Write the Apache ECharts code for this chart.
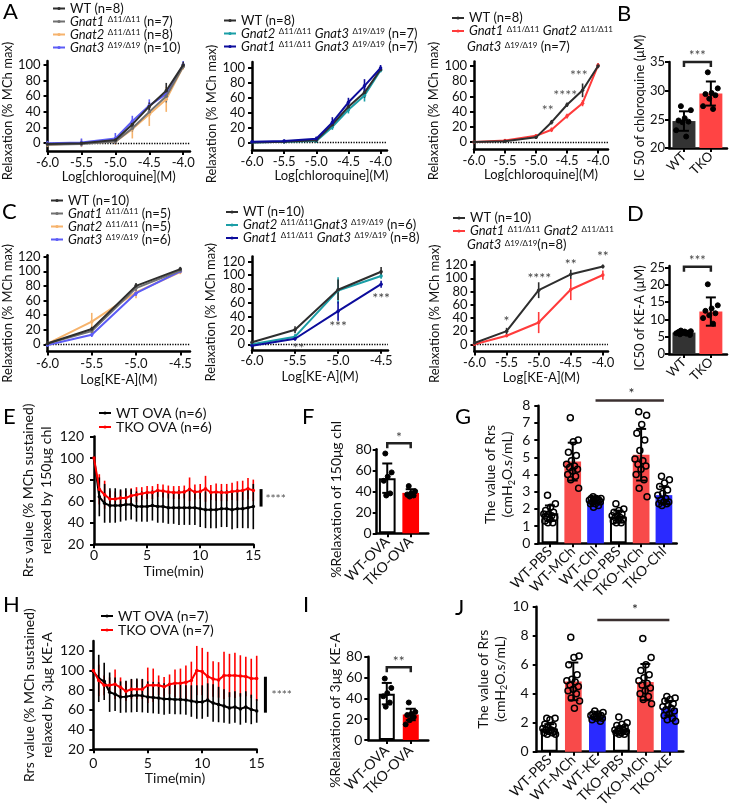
<!DOCTYPE html>
<html>
<head>
<meta charset="utf-8">
<title>Gnat knockout airway relaxation</title>
<script src="https://cdn.jsdelivr.net/npm/echarts@6.0.0/dist/echarts.min.js"></script>
<style>
  html, body { margin: 0; padding: 0; background: #fff; }
  #chart { width: 730px; height: 811px; }
</style>
</head>
<body>
<div id="chart"></div>
<script>
// ---------- data ----------
// A: chloroquine dose response (log M)
const chlDose = [-6, -5.5, -5, -4.75, -4.5, -4.25, -4];
const a1WT = [-1, 0, 4, 24, 47, 67, 100];
const a1WTErr = [2, 2, 3, 4, 5, 10, 4];
const a1Gnat1 = [-2, -1, 2, 19, 40, 60, 98];
const a1Gnat1Err = [2, 2, 3, 4, 5, 8, 3];
const a1Gnat2 = [-2, 0, 2, 18, 37, 56, 98];
const a1Gnat2Err = [3, 5, 4, 12, 15, 16, 4];
const a1Gnat3 = [0, 1, 6, 28, 48, 63, 100];
const a1Gnat3Err = [3, 5, 7, 7, 8, 6, 5];

const a2WT = [0, 1, 3, 24, 48, 67, 98];
const a2WTErr = [1, 2, 2, 4, 5, 7, 3];
const a2Gnat23 = [0, 1, 2, 21, 44, 63, 97];
const a2Gnat23Err = [1, 2, 2, 4, 5, 8, 3];
const a2Gnat13 = [1, 2, 5, 27, 54, 76, 100];
const a2Gnat13Err = [1, 2, 3, 7, 6, 9, 4];

const a3WT = [0, 1, 6, 26, 49, 68, 100];
const a3WTErr = [1, 2, 2, 3, 3, 9, 3];
const a3TKO = [0, 2, 8, 16, 34, 51, 101];
const a3TKOErr = [1, 2, 2, 3, 3, 4, 3];
const a3Stars = ['**', '****', '***'];
const a3StarAt = [[-4.81, 45], [-4.53, 65], [-4.31, 91]];

// B: IC50 of chloroquine
const tkoGroups = ['WT', 'TKO'];
const bMean = [24.7, 29.5];
const bSd = [1.7, 2.1];
const bPoints = [
  [27.3, 26.6, 25.2, 24.8, 24.6, 24.5, 23.1, 22.0],
  [33.2, 30.4, 29.6, 29.4, 29.2, 28.6, 27.3, 26.8]
];

// C: KE-A dose response (log M)
const keDose = [-6, -5.5, -5, -4.5];
const c1WT = [1, 21, 80, 103];
const c1WTErr = [2, 3, 4, 3];
const c1Gnat1 = [1, 18, 77, 101];
const c1Gnat1Err = [2, 3, 4, 3];
const c1Gnat2 = [1, 31, 71, 99];
const c1Gnat2Err = [2, 12, 8, 3];
const c1Gnat3 = [-1, 13, 70, 100];
const c1Gnat3Err = [2, 3, 4, 3];

const c2WT = [3, 21, 79, 105];
const c2WTErr = [2, 5, 15, 7];
const c2Gnat23 = [0, 11, 78, 99];
const c2Gnat23Err = [2, 4, 19, 4];
const c2Gnat13 = [-2, 8, 48, 87];
const c2Gnat13Err = [2, 3, 14, 5];
const c2Stars = ['**', '***', '***'];
const c2StarAt = [[-5.46, -2], [-5.0, 30], [-4.5, 71]];

const keDose3 = [-6, -5.5, -5, -4.5, -4];
const c3WT = [2, 20, 82, 106, 118];
const c3WTErr = [2, 5, 12, 7, 3];
const c3TKO = [0, 13, 33, 83, 105];
const c3TKOErr = [2, 2, 16, 16, 7];
const c3Stars = ['*', '****', '**', '**'];
const c3StarAt = [[-5.5, 40], [-4.99, 105], [-4.5, 126], [-4.0, 137]];

// D: IC50 of KE-A
const dMean = [6.2, 12.3];
const dSd = [0.5, 4.1];
const dPoints = [
  [6.8, 6.6, 6.5, 6.4, 6.2, 6.1, 6.0, 5.9, 5.7, 5.5],
  [20.2, 14.1, 13.2, 12.5, 11.8, 11.2, 10.4, 8.8]
];

// E / H: time course (min)
const timeMin = [0, 0.5, 1, 1.5, 2, 2.5, 3, 3.5, 4, 4.5, 5, 5.5, 6, 6.5, 7, 7.5, 8, 8.5, 9, 9.5, 10, 10.5, 11, 11.5, 12, 12.5, 13, 13.5, 14, 14.5, 15];
const eWT = [100, 64, 58, 56, 56, 56, 57, 57, 55, 55, 55, 56, 55, 55, 54, 54, 54, 54, 54, 54, 53, 52, 52, 52, 53, 53, 52, 53, 53, 54, 55];
const eWTErr = [0, 18, 18, 16, 16, 15, 15, 14, 14, 14, 14, 14, 15, 15, 15, 15, 16, 16, 16, 16, 17, 17, 17, 17, 17, 17, 18, 18, 18, 19, 21];
const eTKO = [100, 71, 66, 62, 62, 63, 63, 65, 66, 67, 68, 68, 70, 69.5, 68.5, 68, 68, 68.5, 71, 68.5, 69, 71.5, 68, 68.5, 68, 68, 69, 69.5, 70, 71.5, 70];
const eTKOErr = [0, 14, 13, 8, 7, 7, 7, 7, 7, 6, 6, 6, 6, 6, 6, 6, 6, 6, 11, 7, 7, 12, 7, 8, 8, 8, 8, 9, 9, 10, 10];

const hWT = [99, 92, 89, 78, 76, 73, 73.5, 74.5, 75, 74.5, 73, 72.5, 72, 71, 71, 70.5, 70.5, 70, 69, 68, 68, 70, 67, 65.5, 64, 62, 63, 61, 63, 60.5, 59];
const hWTErr = [0, 24, 19, 20, 17, 16, 16, 17, 17, 17, 16, 16, 16, 16, 15, 15, 15, 15, 16, 17, 17, 17, 19, 18, 17, 16, 16, 16, 16, 15, 12];
const hTKO = [100, 90, 85, 85, 86, 83, 79, 81, 81, 81, 85, 85, 85, 83.5, 86, 87, 87, 88, 90, 100, 99, 94, 91.5, 90.5, 95, 95, 95, 94.5, 94, 92, 92];
const hTKOErr = [0, 16, 10, 8, 15, 10, 10, 10, 10, 10, 18, 17, 10, 10, 10, 14, 15, 17, 19, 25, 24, 25, 18, 18, 24, 22, 23, 21, 20, 20, 23];

// F / I: % relaxation
const ovaGroups = ['WT-OVA', 'TKO-OVA'];
const fMean = [52.5, 38.5];
const fSd = [14, 3.5];
const fPoints = [[76, 58, 54, 50, 38, 36], [45, 40, 38, 37, 36, 35]];
const iMean = [44.5, 24.5];
const iSd = [10.3, 5.5];
const iPoints = [[59, 50, 45, 42, 36, 32], [36, 27, 25, 24, 22, 19, 15]];

// G / J: Rrs values
const gGroups = ['WT-PBS', 'WT-MCh', 'WT-Chl', 'TKO-PBS', 'TKO-MCh', 'TKO-Chl'];
const gMean = [1.75, 4.75, 2.5, 1.55, 5.15, 2.8];
const gSd = [0.45, 1.1, 0.2, 0.35, 1.5, 0.5];
const gPoints = [
  [2.8, 2.3, 2.1, 1.9, 1.8, 1.7, 1.7, 1.6, 1.5, 1.5, 1.4, 1.3, 1.2, 1.2],
  [7.3, 6.0, 5.9, 5.3, 5.1, 4.8, 4.6, 4.5, 4.4, 4.3, 4.2, 4.0, 3.9, 3.7, 3.2],
  [2.7, 2.6, 2.6, 2.6, 2.5, 2.5, 2.5, 2.5, 2.4, 2.4, 2.3, 2.3, 2.2, 2.1],
  [2.3, 2.0, 1.9, 1.8, 1.7, 1.6, 1.6, 1.5, 1.5, 1.4, 1.4, 1.3, 1.2, 1.2],
  [7.65, 7.45, 6.9, 6.4, 6.0, 5.4, 4.9, 4.8, 4.6, 4.5, 4.3, 4.0, 3.7, 3.2, 2.7],
  [3.9, 3.7, 3.5, 3.3, 3.1, 2.9, 2.8, 2.6, 2.5, 2.4, 2.4, 2.3, 2.3, 2.2]
];
const jGroups = ['WT-PBS', 'WT-MCh', 'WT-KE', 'TKO-PBS', 'TKO-MCh', 'TKO-KE'];
const jMean = [1.6, 4.85, 2.45, 1.5, 4.8, 3.0];
const jSd = [0.3, 1.3, 0.2, 0.25, 1.25, 0.5];
const jPoints = [
  [2.3, 2.3, 2.2, 1.9, 1.8, 1.7, 1.6, 1.5, 1.5, 1.4, 1.4, 1.3, 1.3, 1.2, 1.2],
  [7.9, 6.6, 6.5, 6.0, 5.3, 5.0, 4.9, 4.8, 4.6, 4.5, 4.3, 4.2, 4.0, 3.7, 3.5, 3.0],
  [2.8, 2.7, 2.6, 2.6, 2.5, 2.5, 2.5, 2.4, 2.4, 2.3, 2.3, 2.2, 2.1],
  [2.4, 2.0, 1.9, 1.8, 1.7, 1.6, 1.5, 1.5, 1.4, 1.4, 1.3, 1.3, 1.2, 1.2],
  [7.8, 6.5, 6.0, 5.6, 5.3, 5.1, 4.9, 4.7, 4.6, 4.4, 4.2, 4.0, 3.8, 3.6, 3.3],
  [3.8, 3.7, 3.6, 3.5, 3.3, 3.2, 3.1, 3.0, 2.9, 2.8, 2.6, 2.5, 2.3, 2.2, 2.1]
];

// legend texts
const LEG = {
  'A1 WT': 'WT (n=8)',
  'A1 G1': '{i|Gnat1} {s|Δ11/Δ11} (n=7)',
  'A1 G2': '{i|Gnat2} {s|Δ11/Δ11} (n=8)',
  'A1 G3': '{i|Gnat3} {s|Δ19/Δ19} (n=10)',
  'A2 WT': 'WT (n=8)',
  'A2 G23': '{i|Gnat2} {s|Δ11/Δ11} {i|Gnat3} {s|Δ19/Δ19} (n=7)',
  'A2 G13': '{i|Gnat1} {s|Δ11/Δ11} {i|Gnat3} {s|Δ19/Δ19} (n=7)',
  'A3 WT': 'WT (n=8)',
  'A3 TKO': '{i|Gnat1} {s|Δ11/Δ11} {i|Gnat2} {s|Δ11/Δ11}',
  'C1 WT': 'WT (n=10)',
  'C1 G1': '{i|Gnat1} {s|Δ11/Δ11} (n=5)',
  'C1 G2': '{i|Gnat2} {s|Δ11/Δ11} (n=5)',
  'C1 G3': '{i|Gnat3} {s|Δ19/Δ19} (n=6)',
  'C2 WT': 'WT (n=10)',
  'C2 G23': '{i|Gnat2} {s|Δ11/Δ11}{i|Gnat3} {s|Δ19/Δ19} (n=6)',
  'C2 G13': '{i|Gnat1} {s|Δ11/Δ11} {i|Gnat3} {s|Δ19/Δ19} (n=8)',
  'C3 WT': 'WT (n=10)',
  'C3 TKO': '{i|Gnat1} {s|Δ11/Δ11} {i|Gnat2} {s|Δ11/Δ11}',
  'E WT': 'WT OVA (n=6)',
  'E TKO': 'TKO OVA (n=6)',
  'H WT': 'WT OVA (n=7)',
  'H TKO': 'TKO OVA (n=7)'
};

// ---------- styling ----------
const FONT = 'Lato, "DejaVu Sans", sans-serif';
const INK = '#111';
const C_WT = '#2e2e2e', C_G1 = '#707070', C_G2 = '#f6b36c', C_G3 = '#5c5cf6';
const C_TEAL = '#1b9ea6', C_NAVY = '#0c0c9c', C_RED = '#ff3b3b';
const twoFill = ['#333333', '#ff4444'];
const ovaFill = ['#ffffff', '#ff0000'];
const ovaBorder = ['#000', null];
const sixFill = ['#ffffff', '#f84a4a', '#2a2aff', '#ffffff', '#f84a4a', '#2a2aff'];
const sixBorder = ['#000', null, null, '#000', null, null];

const chart = echarts.init(document.getElementById('chart'));
const grids = [], xAxes = [], yAxes = [], series = [], legends = [];

function rich(fs, lh) {
  return {
    i: {fontStyle: 'italic', fontSize: fs, fontFamily: FONT, lineHeight: lh, color: INK},
    s: {fontSize: Math.round(fs * 0.62), fontFamily: FONT, lineHeight: 6, verticalAlign: 'top', color: INK}
  };
}

function panel(p) {
  const gi = grids.length;
  const tx = {fontSize: p.fs, fontFamily: FONT, color: INK};
  grids.push({left: p.box[0], top: p.box[1], width: p.box[2], height: p.box[3]});
  xAxes.push({
    gridIndex: gi, type: 'value', min: p.x[0], max: p.x[1],
    axisLine: {onZero: false, lineStyle: {color: '#000', width: 2.5}},
    axisTick: {length: 4, customValues: p.xt, lineStyle: {color: '#000', width: 2}},
    axisLabel: Object.assign({customValues: p.xt, formatter: p.xf, margin: p.xm, rotate: p.xr || 0}, tx),
    splitLine: {show: false},
    name: p.xn || '', nameLocation: 'middle', nameGap: p.xg || 18,
    nameTextStyle: Object.assign({padding: p.xpad || 0}, tx)
  });
  yAxes.push({
    gridIndex: gi, type: 'value', min: p.y[0], max: p.y[1],
    axisLine: {onZero: false, lineStyle: {color: '#000', width: 2.5}},
    axisTick: {length: 4, customValues: p.yt, lineStyle: {color: '#000', width: 2}},
    axisLabel: Object.assign({customValues: p.yt, margin: p.ym}, tx),
    splitLine: {show: false},
    name: p.yn, nameLocation: 'middle', nameRotate: 90, nameGap: p.yg,
    nameTextStyle: Object.assign({padding: [0, p.ypad || 0, 0, 0], lineHeight: p.ylh || p.fs}, tx, p.yrich ? {rich: p.yrich} : {})
  });
  return gi;
}

function errBar(color, width, cap) {
  return function (params, api) {
    const x = api.value(0), y = api.value(1), e = api.value(2);
    const hi = api.coord([x, y + e]), lo = api.coord([x, y - e]);
    const st = {stroke: color, lineWidth: width};
    const kids = [{type: 'line', shape: {x1: hi[0], y1: hi[1], x2: lo[0], y2: lo[1]}, style: st}];
    if (cap) {
      kids.push({type: 'line', shape: {x1: hi[0] - cap, y1: hi[1], x2: hi[0] + cap, y2: hi[1]}, style: st});
      kids.push({type: 'line', shape: {x1: lo[0] - cap, y1: lo[1], x2: lo[0] + cap, y2: lo[1]}, style: st});
    }
    return {type: 'group', children: kids};
  };
}

function curve(gi, name, xs, ys, es, color, z, zeroLine) {
  series.push({
    type: 'custom', xAxisIndex: gi, yAxisIndex: gi, silent: true, z: z,
    data: xs.map((x, i) => [x, ys[i], es[i]]), renderItem: errBar(color, 1.6, 0)
  });
  const s = {
    type: 'line', name: name, xAxisIndex: gi, yAxisIndex: gi, z: z + 10,
    data: xs.map((x, i) => [x, ys[i]]), symbol: 'circle', symbolSize: 3.5,
    lineStyle: {color: color, width: 2}, itemStyle: {color: color}
  };
  if (zeroLine) {
    s.markLine = {silent: true, symbol: 'none', label: {show: false},
      lineStyle: {color: '#000', type: 'dotted', width: 1.3}, data: [{yAxis: 0}]};
  }
  series.push(s);
}

function jitter(j, spread) {
  const f = (j * 0.618034 + 0.31) % 1;
  return (f - 0.5) * 2 * spread;
}

function bars(gi, means, sds, pts, fills, borders, barW, spread, dot) {
  series.push({
    type: 'bar', xAxisIndex: gi, yAxisIndex: gi, barWidth: barW, z: 2,
    data: means.map((m, i) => ({value: [i, m], itemStyle: {
      color: fills[i], borderColor: borders ? borders[i] || fills[i] : fills[i],
      borderWidth: borders && borders[i] ? 2 : 0}}))
  });
  const dots = [];
  pts.forEach((g, i) => g.forEach((v, j) => dots.push([i + jitter(j, spread), v])));
  series.push({
    type: 'scatter', xAxisIndex: gi, yAxisIndex: gi, z: 3, data: dots,
    symbol: 'circle', symbolSize: dot.size,
    itemStyle: {color: dot.fill, borderColor: '#000', borderWidth: dot.border, opacity: 1}
  });
  series.push({
    type: 'custom', xAxisIndex: gi, yAxisIndex: gi, silent: true, z: 4,
    data: means.map((m, i) => [i, m, sds[i]]), renderItem: errBar('#000', 2, 5)
  });
}

function marks(gi, pos, labels, fs, color) {
  series.push({
    type: 'custom', xAxisIndex: gi, yAxisIndex: gi, silent: true, z: 8, data: pos,
    renderItem: function (params, api) {
      const c = api.coord([api.value(0), api.value(1)]);
      return {type: 'text', x: c[0], y: c[1] + fs * 0.22, style: {
        text: labels[params.dataIndex], fontSize: fs, fontFamily: FONT, fill: color,
        align: 'center', verticalAlign: 'middle'}};
    }
  });
}

function bracket(gi, x0, x1, y, label, fs) {
  series.push({
    type: 'custom', xAxisIndex: gi, yAxisIndex: gi, silent: true, z: 8, data: [[x0, x1, y]],
    renderItem: function (params, api) {
      const a = api.coord([api.value(0), api.value(2)]);
      const b = api.coord([api.value(1), api.value(2)]);
      return {type: 'group', children: [
        {type: 'polyline', shape: {points: [[a[0], a[1] + 5], a, b, [b[0], b[1] + 5]]},
          style: {stroke: '#222', lineWidth: 2.5, fill: null}},
        {type: 'text', x: (a[0] + b[0]) / 2, y: a[1] - 9 + fs * 0.22, style: {
          text: label, fontSize: fs, fontFamily: FONT, fill: '#444', align: 'center', verticalAlign: 'middle'}}
      ]};
    }
  });
}

function segment(gi, seg, width, color) {
  series.push({
    type: 'custom', xAxisIndex: gi, yAxisIndex: gi, silent: true, z: 8, data: [seg],
    renderItem: function (params, api) {
      const a = api.coord([api.value(0), api.value(1)]);
      const b = api.coord([api.value(2), api.value(3)]);
      return {type: 'line', shape: {x1: a[0], y1: a[1], x2: b[0], y2: b[1]},
        style: {stroke: color, lineWidth: width}};
    }
  });
}

function legend(names, left, top, lh, fs) {
  legends.push({
    orient: 'vertical', left: left, top: top, padding: 0, itemGap: 0,
    itemWidth: 12, itemHeight: 4, selectedMode: false, data: names,
    formatter: n => LEG[n],
    textStyle: {fontSize: fs, fontFamily: FONT, color: INK, lineHeight: lh, rich: rich(fs, lh)}
  });
}

const fmt1 = v => v.toFixed(1);
const relName = 'Relaxation (% MCh max)';
const chlTicks = [-6, -5.5, -5, -4.5, -4];
const keTicks = [-6, -5.5, -5, -4.5];
const keTicks3 = [-6, -5.5, -5, -4.5, -4];
const pctTicks = [0, 20, 40, 60, 80, 100];
const pct120 = [0, 20, 40, 60, 80, 100, 120];
const rrsName = '{a|The value of Rrs}\n{a|(cmH}{b|2}{a|O.s/mL)}';
const rrsRich = {
  a: {fontSize: 14, fontFamily: FONT, color: INK, lineHeight: 17},
  b: {fontSize: 9, fontFamily: FONT, color: INK, lineHeight: 9, verticalAlign: 'bottom'}
};

// ---------- A ----------
let g = panel({box: [47, 61, 143, 90], x: [-6, -3.9], y: [-10, 105], fs: 13,
  xt: chlTicks, xf: fmt1, xm: 5, xn: 'Log[chloroquine](M)', xg: 17,
  yt: pctTicks, ym: 7, yn: relName, yg: 32, ypad: 10});
curve(g, 'A1 G2', chlDose, a1Gnat2, a1Gnat2Err, C_G2, 2, true);
curve(g, 'A1 G3', chlDose, a1Gnat3, a1Gnat3Err, C_G3, 3);
curve(g, 'A1 G1', chlDose, a1Gnat1, a1Gnat1Err, C_G1, 4);
curve(g, 'A1 WT', chlDose, a1WT, a1WTErr, C_WT, 5);
legend(['A1 WT', 'A1 G1', 'A1 G2', 'A1 G3'], 52, 2, 12, 13);

g = panel({box: [252, 62, 135, 88], x: [-6, -3.9], y: [-10, 108], fs: 13,
  xt: chlTicks, xf: fmt1, xm: 5, xn: 'Log[chloroquine](M)', xg: 17, xpad: [0, 0, 0, 24],
  yt: pctTicks, ym: 7, yn: relName, yg: 30, ypad: 16});
curve(g, 'A2 G23', chlDose, a2Gnat23, a2Gnat23Err, C_TEAL, 2, true);
curve(g, 'A2 WT', chlDose, a2WT, a2WTErr, C_WT, 3);
curve(g, 'A2 G13', chlDose, a2Gnat13, a2Gnat13Err, C_NAVY, 4);
legend(['A2 WT', 'A2 G23', 'A2 G13'], 223, 14, 11.5, 13);

g = panel({box: [474, 61.5, 134, 88], x: [-6, -3.84], y: [-10, 106], fs: 13,
  xt: chlTicks, xf: fmt1, xm: 5, xn: 'Log[chloroquine](M)', xg: 18,
  yt: pctTicks, ym: 7, yn: relName, yg: 31, ypad: 11});
curve(g, 'A3 TKO', chlDose, a3TKO, a3TKOErr, C_RED, 2, true);
curve(g, 'A3 WT', chlDose, a3WT, a3WTErr, C_WT, 3);
marks(g, a3StarAt, a3Stars, 14, '#555');
legend(['A3 WT', 'A3 TKO'], 451, 11.5, 11, 13);

// ---------- B ----------
g = panel({box: [669, 62, 58, 86], x: [-0.556, 1.6], y: [20, 35], fs: 13,
  xt: [0, 1], xf: v => tkoGroups[Math.round(v)], xm: 6, xr: 45,
  yt: [20, 25, 30, 35], ym: 4, yn: 'IC 50 of chloroquine (μM)', yg: 16, ypad: 6});
bars(g, bMean, bSd, bPoints, twoFill, null, 23, 0.3, {size: 5, fill: '#000', border: 1});
bracket(g, 0, 1, 35.0, '***', 13);

// ---------- C ----------
g = panel({box: [46.5, 255.2, 143.5, 96.4], x: [-6, -4.39], y: [-10, 122], fs: 13,
  xt: keTicks, xf: fmt1, xm: 6, xn: 'Log[KE-A](M)', xg: 22,
  yt: pct120, ym: 7, yn: relName, yg: 31, ypad: 20});
curve(g, 'C1 G2', keDose, c1Gnat2, c1Gnat2Err, C_G2, 2, true);
curve(g, 'C1 G3', keDose, c1Gnat3, c1Gnat3Err, C_G3, 3);
curve(g, 'C1 G1', keDose, c1Gnat1, c1Gnat1Err, C_G1, 4);
curve(g, 'C1 WT', keDose, c1WT, c1WTErr, C_WT, 5);
legend(['C1 WT', 'C1 G1', 'C1 G2', 'C1 G3'], 50, 194, 12.3, 13);

g = panel({box: [252, 256.6, 136, 93.2], x: [-6, -4.42], y: [-8, 127], fs: 13,
  xt: keTicks, xf: fmt1, xm: 5, xn: 'Log[KE-A](M)', xg: 21,
  yt: pct120, ym: 7, yn: relName, yg: 35, ypad: 18});
curve(g, 'C2 G23', keDose, c2Gnat23, c2Gnat23Err, C_TEAL, 2, true);
curve(g, 'C2 WT', keDose, c2WT, c2WTErr, C_WT, 3);
curve(g, 'C2 G13', keDose, c2Gnat13, c2Gnat13Err, C_NAVY, 4);
marks(g, c2StarAt, c2Stars, 14, '#444');
legend(['C2 WT', 'C2 G23', 'C2 G13'], 225, 205.5, 13, 13);

g = panel({box: [474.5, 261.8, 133.5, 89.8], x: [-6, -3.92], y: [-11, 125], fs: 13,
  xt: keTicks3, xf: fmt1, xm: 5, xn: 'Log[KE-A](M)', xg: 20,
  yt: pct120, ym: 7, yn: relName, yg: 30, ypad: 14});
curve(g, 'C3 TKO', keDose3, c3TKO, c3TKOErr, C_RED, 2, true);
curve(g, 'C3 WT', keDose3, c3WT, c3WTErr, C_WT, 3);
marks(g, c3StarAt, c3Stars, 14, '#444');
legend(['C3 WT', 'C3 TKO'], 452, 211.5, 10.5, 13);

// ---------- D ----------
g = panel({box: [669, 266, 58, 88], x: [-0.556, 1.6], y: [0, 25.5], fs: 13,
  xt: [0, 1], xf: v => tkoGroups[Math.round(v)], xm: 6, xr: 45,
  yt: [0, 5, 10, 15, 20, 25], ym: 4, yn: 'IC50 of KE-A (μM)', yg: 16, ypad: 16});
bars(g, dMean, dSd, dPoints, twoFill, null, 23, 0.3, {size: 5, fill: '#000', border: 1});
bracket(g, 0, 1, 25.3, '***', 13);

// ---------- E ----------
g = panel({box: [94, 436.5, 159.3, 107.8], x: [0, 15], y: [20, 120], fs: 14,
  xt: [0, 5, 10, 15], xf: v => String(v), xm: 4, xn: 'Time(min)', xg: 20,
  yt: [20, 40, 60, 80, 100, 120], ym: 10,
  yn: 'Rrs value (% MCh sustained)\nrelaxed by 150μg chl', yg: 30, ylh: 18});
curve(g, 'E TKO', timeMin, eTKO, eTKOErr, '#ff0000', 2);
curve(g, 'E WT', timeMin, eWT, eWTErr, '#000000', 3);
series[series.length - 3].z = 14;  // red curve drawn over the black one
segment(g, [15.73, 55, 15.73, 71.2], 3, '#000');
marks(g, [[17.1, 64.4]], ['****'], 12, '#555');
legend(['E WT', 'E TKO'], 98, 406, 13.7, 14);

// ---------- F ----------
g = panel({box: [376.7, 449.3, 51.6, 84], x: [-0.45, 1.75], y: [0, 80], fs: 14,
  xt: [0, 1], xf: v => ovaGroups[Math.round(v)], xm: 6, xr: 45,
  yt: [0, 20, 40, 60, 80], ym: 5, yn: '%Relaxation of 150μg chl', yg: 33, ypad: 16});
bars(g, fMean, fSd, fPoints, ovaFill, ovaBorder, 16.7, 0.22, {size: 5, fill: '#000', border: 1});
bracket(g, 0, 1, 85.7, '*', 14);

// ---------- G ----------
g = panel({box: [538.3, 405.7, 138.4, 137.6], x: [-0.51, 5.56], y: [0, 8], fs: 14,
  xt: [0, 1, 2, 3, 4, 5], xf: v => gGroups[Math.round(v)], xm: 6, xr: 45,
  yt: [0, 1, 2, 3, 4, 5, 6, 7, 8], ym: 8, yn: rrsName, yrich: rrsRich, ylh: 17, yg: 22});
bars(g, gMean, gSd, gPoints, sixFill, sixBorder, 16.7, 0.28, {size: 6, fill: 'rgba(0,0,0,0)', border: 1.5});
segment(g, [2, 8.3, 5, 8.3], 2.5, '#3b3030');
marks(g, [[3.58, 8.9]], ['*'], 14, '#222');

// ---------- H ----------
g = panel({box: [93.3, 641, 163.4, 108.3], x: [0, 15], y: [20, 130], fs: 14,
  xt: [0, 5, 10, 15], xf: v => String(v), xm: 7, xn: 'Time(min)', xg: 22,
  yt: [20, 40, 60, 80, 100, 120], ym: 9,
  yn: 'Rrs value (% MCh sustained)\nrelaxed by 3μg KE-A', yg: 30, ylh: 18});
curve(g, 'H TKO', timeMin, hTKO, hTKOErr, '#ff0000', 2);
curve(g, 'H WT', timeMin, hWT, hWTErr, '#000000', 3);
series[series.length - 3].z = 14;
segment(g, [15.8, 57.2, 15.8, 93.7], 3, '#000');
marks(g, [[17.3, 77.5]], ['****'], 12, '#555');
legend(['H WT', 'H TKO'], 100, 609, 13.3, 14);

// ---------- I ----------
g = panel({box: [368.3, 656.7, 60, 83.3], x: [-0.77, 1.73], y: [0, 80], fs: 14,
  xt: [0, 1], xf: v => ovaGroups[Math.round(v)], xm: 8, xr: 45,
  yt: [0, 20, 40, 60, 80], ym: 6, yn: '%Relaxation of 3μg KE-A', yg: 25, ypad: 24});
bars(g, iMean, iSd, iPoints, ovaFill, ovaBorder, 16, 0.22, {size: 5, fill: '#000', border: 1});
bracket(g, 0, 1, 69.9, '**', 14);

// ---------- J ----------
g = panel({box: [536.7, 606.7, 146.6, 145], x: [-0.525, 5.58], y: [0, 10], fs: 14,
  xt: [0, 1, 2, 3, 4, 5], xf: v => jGroups[Math.round(v)], xm: 6, xr: 45,
  yt: [0, 2, 4, 6, 8, 10], ym: 8, yn: rrsName, yrich: rrsRich, ylh: 17, yg: 20});
bars(g, jMean, jSd, jPoints, sixFill, sixBorder, 16.7, 0.28, {size: 6, fill: 'rgba(0,0,0,0)', border: 1.5});
segment(g, [2, 9.08, 5, 9.08], 2.5, '#3b3030');
marks(g, [[3.57, 10.0]], ['*'], 14, '#222');

// ---------- panel letters and wrapped legend lines ----------
const letters = [['A', 3, 1], ['B', 617, 3], ['C', 2, 201], ['D', 627, 203], ['E', 3, 406],
  ['F', 302, 406], ['G', 455, 406], ['H', 3, 594], ['I', 303, 594], ['J', 455, 597]];
const graphicRich = {
  i: {fontStyle: 'italic', fontSize: 13, fontFamily: FONT, fill: INK},
  s: {fontSize: 8, fontFamily: FONT, fill: INK, lineHeight: 6, verticalAlign: 'top'}
};

chart.setOption({
  animation: false,
  backgroundColor: '#fff',
  textStyle: {fontFamily: FONT},
  title: letters.map(l => ({text: l[0], left: l[1], top: l[2], padding: 0,
    textStyle: {fontSize: 22, fontWeight: 'normal', fontFamily: FONT, color: '#000'}})),
  grid: grids,
  xAxis: xAxes,
  yAxis: yAxes,
  legend: legends,
  series: series,
  graphic: [
    {type: 'text', x: 467, y: 47, style: {text: '{i|Gnat3} {s|Δ19/Δ19} (n=7)', rich: graphicRich,
      fontSize: 13, fontFamily: FONT, fill: INK, verticalAlign: 'middle', lineHeight: 12}},
    {type: 'text', x: 467, y: 245, style: {text: '{i|Gnat3} {s|Δ19/Δ19}(n=8)', rich: graphicRich,
      fontSize: 13, fontFamily: FONT, fill: INK, verticalAlign: 'middle', lineHeight: 12}}
  ]
});
window.addEventListener('resize', () => chart.resize());
</script>
</body>
</html>
